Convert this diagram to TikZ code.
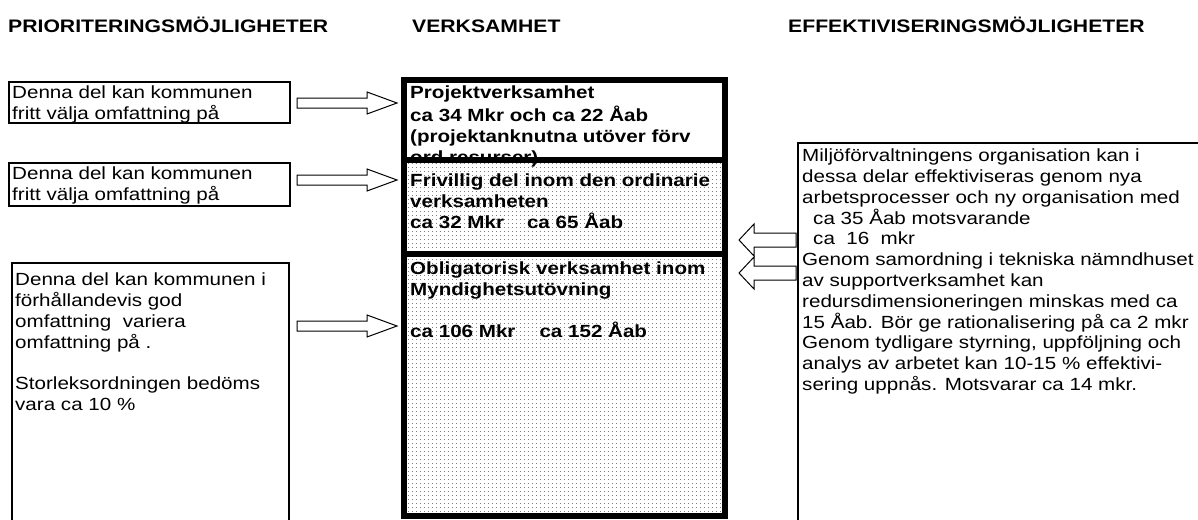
\documentclass[tikz,border=0pt]{standalone}
\usepackage{fontspec}
\setmainfont{Liberation Sans}[FakeStretch=1.17]
\usetikzlibrary{patterns.meta}

\tikzdeclarepattern{
  name=finedots,
  type=uncolored,
  bounding box={(0pt,0pt) and (4pt,4pt)},
  tile size={(4pt,4pt)},
  code={\fill (0pt,0pt) rectangle (1pt,1pt);}
}

\tikzset{
  plain/.style={anchor=north west, inner sep=0pt, align=left, font=\fontsize{17.6}{20.8}\selectfont},
  heavy/.style={plain, font=\fontsize{17.6}{20.8}\selectfont\bfseries},
  heading/.style={anchor=base west, inner sep=0pt, font=\fontsize{18.1}{20.8}\selectfont\bfseries},
  thinbox/.style={draw, line width=1.2pt},
  thickbox/.style={draw, line width=6pt},
  dotted fill/.style={pattern={finedots}, pattern color=black!50},
  blockarrow/.style={draw, line width=1pt, fill=white, line join=miter}
}

\begin{document}
\begin{tikzpicture}[x=1pt, y=-1pt]
\useasboundingbox (0,0) rectangle (1198,519);
\clip (0,0) rectangle (1198,519);

% headings
\node[heading] (hdrprio) at (8,33) {PRIORITERINGSMÖJLIGHETER};
\node[heading] (hdrverk) at (412,33) {VERKSAMHET};
\node[heading] (hdreff) at (788,33) {EFFEKTIVISERINGSMÖJLIGHETER};

% left column
\draw[thinbox] (9,82) rectangle (290,123);
\node[plain] (prio1) at (12,84) {\strut Denna del kan kommunen\\fritt välja omfattning på};
\draw[thinbox] (9,163) rectangle (290,206);
\node[plain] (prio2) at (12,165) {\strut Denna del kan kommunen\\fritt välja omfattning på};
\draw[thinbox] (12,540) -- (12,263) -- (289,263) -- (289,540);
\node[plain] (prio3) at (15,271) {\strut Denna del kan kommunen i\\förhållandevis god\\omfattning\ \ variera\\omfattning på .\\[20.8pt]Storleksordningen bedöms\\vara ca 10 \%};

% middle column
\fill[dotted fill] (404,160) rectangle (725,516);
\node[heavy] (verk1) at (410,84) {\strut Projektverksamhet\\ca 34 Mkr och ca 22 Åab\\(projektanknutna utöver förv\\ord resurser)};
\node[heavy] (verk2) at (410,172) {\strut Frivillig del inom den ordinarie\\verksamheten\\ca 32 Mkr\hspace{23pt}ca 65 Åab};
\node[heavy] (verk3) at (410,260) {\strut Obligatorisk verksamhet inom\\Myndighetsutövning\\[20.8pt]ca 106 Mkr\hspace{24pt}ca 152 Åab};
\draw[thickbox] (404,80) rectangle (725,516);
\draw[thickbox] (404,160) -- (725,160);
\draw[thickbox] (404,254) -- (725,254);

% right column
\draw[thinbox] (1210,143) -- (798,143) -- (798,540);
\node[plain] (eff) at (802,147) {\strut Miljöförvaltningens organisation kan i\\dessa delar effektiviseras genom nya\\arbetsprocesser och ny organisation med\\\hspace*{11pt}ca 35 Åab motsvarande\\\hspace*{11pt}ca\ \ 16\ \ mkr\\Genom samordning i tekniska nämndhuset\\av supportverksamhet kan\\redursdimensioneringen minskas med ca\\15 Åab. Bör ge rationalisering på ca 2 mkr\\Genom tydligare styrning, uppföljning och\\analys av arbetet kan 10-15 \% effektivi-\\sering uppnås. Motsvarar ca 14 mkr.};

% arrows into the middle column
\foreach \y in {103,180,326}
  \draw[blockarrow] (297,\y-5) -- (367,\y-5) -- (367,\y-11) -- (397,\y) -- (367,\y+11) -- (367,\y+5) -- (297,\y+5) -- cycle;
\foreach \y in {240,273}
  \draw[blockarrow] (796,\y-7) -- (754,\y-7) -- (754,\y-16) -- (739,\y) -- (754,\y+16) -- (754,\y+7) -- (796,\y+7) -- cycle;
\end{tikzpicture}
\end{document}
